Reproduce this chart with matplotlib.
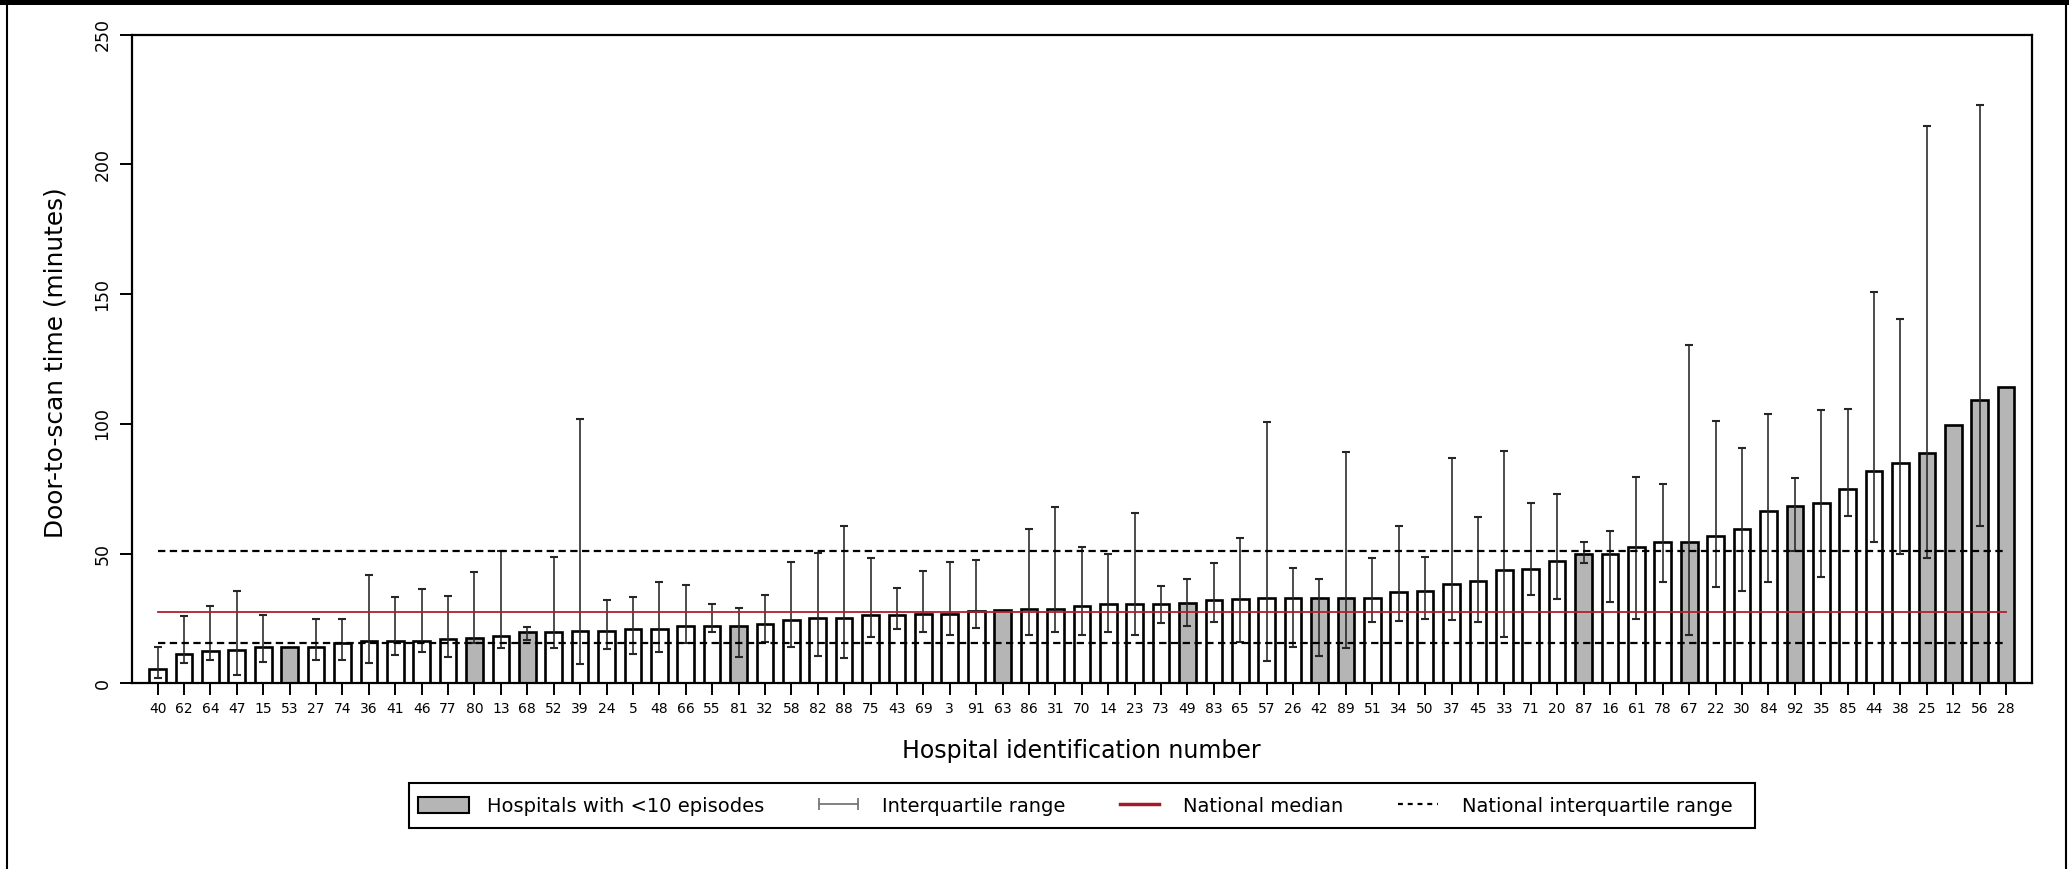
import matplotlib
matplotlib.use("Agg")
import matplotlib.pyplot as plt
import numpy as np
from matplotlib.patches import Patch, Rectangle
from matplotlib.lines import Line2D

# Hospitals ordered by median door-to-scan time
hospital_ids = [40, 62, 64, 47, 15, 53, 27, 74, 36, 41, 46, 77, 80, 13, 68, 52, 39, 24, 5, 48,
                66, 55, 81, 32, 58, 82, 88, 75, 43, 69, 3, 91, 63, 86, 31, 70, 14, 23, 73, 49,
                83, 65, 57, 26, 42, 89, 51, 34, 50, 37, 45, 33, 71, 20, 87, 16, 61, 78, 67, 22,
                30, 84, 92, 35, 85, 44, 38, 25, 12, 56, 28]

median_minutes = [5.6, 11.2, 12.4, 12.8, 13.8, 13.8, 13.8, 15.4, 16.4, 16.4,
                  16.4, 16.9, 17.6, 18.1, 19.6, 19.6, 20.1, 20.3, 20.8, 21.0,
                  21.9, 21.9, 21.9, 22.7, 24.4, 25.1, 25.3, 26.2, 26.4, 26.7,
                  26.7, 27.8, 28.3, 28.5, 28.7, 29.7, 30.4, 30.4, 30.4, 31.0,
                  32.2, 32.4, 32.7, 32.9, 32.9, 32.9, 32.9, 35.0, 35.4, 38.2,
                  39.4, 43.5, 44.2, 47.3, 50.0, 50.0, 52.6, 54.4, 54.6, 56.8,
                  59.5, 66.5, 68.3, 69.6, 74.7, 81.8, 85.0, 88.7, 99.6, 109.2, 114.1]

nan = float("nan")
iqr_lower = [2.0, 7.7, 9.0, 3.2, 8.2, nan, 9.0, 9.0, 7.9, 10.8,
             12.0, 10.0, 15.4, 13.5, 16.7, 13.7, 7.4, 13.1, 11.2, 11.9,
             15.4, 19.9, 10.3, 15.9, 14.0, 10.5, 9.6, 17.7, 20.9, 19.9,
             18.8, 21.5, nan, 18.8, 19.6, 18.6, 19.6, 18.8, 23.3, 22.1,
             23.6, 16.0, 8.7, 13.8, 10.6, 13.5, 23.7, 24.1, 24.6, 24.4,
             23.6, 17.7, 34.0, 32.4, 46.4, 31.4, 24.9, 39.2, 18.8, 37.2,
             35.6, 39.2, 50.8, 40.9, 64.4, 54.4, 50.0, 48.1, nan, 60.8, nan]

iqr_upper = [14.1, 26.0, 29.6, 35.4, 26.5, nan, 24.6, 24.6, 41.7, 33.1,
             36.5, 33.5, 42.7, 51.0, 21.8, 48.7, 101.9, 32.2, 33.1, 39.2,
             37.7, 30.5, 29.2, 34.1, 46.7, 50.1, 60.8, 48.1, 36.8, 43.2,
             46.8, 47.4, nan, 59.6, 67.9, 52.6, 50.0, 65.8, 37.6, 40.0,
             46.4, 55.8, 100.6, 44.5, 40.0, 89.1, 48.1, 60.6, 48.5, 86.8,
             64.0, 89.4, 69.6, 73.1, 54.4, 58.7, 79.4, 76.7, 130.5, 101.0,
             90.6, 103.8, 79.1, 105.5, 105.8, 150.9, 140.4, 214.6, nan, 222.8, nan]

# Hospitals with fewer than 10 episodes
few_episodes = [53, 80, 68, 81, 63, 49, 42, 89, 87, 67, 92, 25, 12, 56, 28]

national_median = 27.3
national_q1 = 15.4
national_q3 = 51.0

W, H = 2069, 869
fig = plt.figure(figsize=(W / 100, H / 100), dpi=100)
fig.patch.set_facecolor("white")

ax_left, ax_right = 131.7 / W, 2031.7 / W
ax_bottom, ax_top = 1 - 683.3 / H, 1 - 34.5 / H
ax = fig.add_axes([ax_left, ax_bottom, ax_right - ax_left, ax_top - ax_bottom])

x = np.arange(len(hospital_ids))
med = np.array(median_minutes)
lo = np.array(iqr_lower)
hi = np.array(iqr_upper)

GRAY = "#b5b5b5"
face = [GRAY if h in few_episodes else "white" for h in hospital_ids]

ax.bar(x, med, width=0.63, color=face, edgecolor="black", linewidth=1.9, zorder=2)

has_iqr = ~np.isnan(lo)
ax.errorbar(x[has_iqr], med[has_iqr],
            yerr=[med[has_iqr] - lo[has_iqr], hi[has_iqr] - med[has_iqr]],
            fmt="none", ecolor="#262626", elinewidth=1.15, capsize=2.6, capthick=1.5,
            zorder=3)

line_x = [x[0], x[-1]]
ax.plot(line_x, [national_median] * 2, color="#b0202e", linewidth=1.3, zorder=4)
for q in (national_q1, national_q3):
    ax.plot(line_x, [q] * 2, color="black", linewidth=1.6, dashes=(3.3, 2.0), zorder=4)

ax.set_xlim(-0.98, len(hospital_ids) - 1 + 0.97)
ax.set_ylim(0, 250)
ax.set_yticks([0, 50, 100, 150, 200, 250])
ax.set_xticks(x)
ax.set_xticklabels([str(h) for h in hospital_ids], fontsize=10)
for lbl in ax.get_yticklabels():
    lbl.set_rotation(90)
    lbl.set_va("center")
    lbl.set_fontsize(12.5)

ax.tick_params(axis="y", direction="out", length=8.5, width=1.4, pad=6)
ax.tick_params(axis="x", direction="out", length=8.5, width=1.4, pad=5)
for side in ("left", "bottom", "top", "right"):
    ax.spines[side].set_linewidth(1.6)

ax.set_ylabel("Door-to-scan time (minutes)", fontsize=17.8)
ax.yaxis.set_label_coords(-0.034, 0.495)
ax.set_xlabel("Hospital identification number", fontsize=17)
ax.xaxis.set_label_coords(0.5, -0.086)

handles = [
    Patch(facecolor=GRAY, edgecolor="black", linewidth=1.5),
    Line2D([], [], color="#777777", linewidth=1.3, marker="|", markersize=9,
           markeredgewidth=1.3),
    Line2D([], [], color="#a01c28", linewidth=2.5),
    Line2D([], [], color="black", linewidth=1.6, dashes=(2.2, 2.2)),
]
labels = ["Hospitals with <10 episodes", "Interquartile range",
          "National median", "National interquartile range"]
fig.legend(handles, labels, ncol=4, loc="center",
           bbox_to_anchor=(1075 / W, 1 - 806 / H),
           fontsize=14, frameon=False,
           handlelength=2.62, handleheight=0.93,
           handletextpad=0.93, columnspacing=2.52, borderpad=0.3,
           numpoints=2)

# Legend box
fig.add_artist(Rectangle((409 / W, 1 - 828 / H), (1755 - 409) / W, 45 / H,
                         transform=fig.transFigure, facecolor="none",
                         edgecolor="black", linewidth=1.5))

# Outer frame of the figure panel
fig.add_artist(Rectangle((0, 1 - 5 / H), 1, 5 / H, transform=fig.transFigure,
                         facecolor="black", edgecolor="none"))
fig.add_artist(Line2D([7 / W, 7 / W], [0, 1], transform=fig.transFigure,
                      color="black", linewidth=1.5))
fig.add_artist(Line2D([2066 / W, 2066 / W], [0, 1], transform=fig.transFigure,
                      color="black", linewidth=1.5))

fig.savefig("out.png", dpi=100, facecolor="white")
